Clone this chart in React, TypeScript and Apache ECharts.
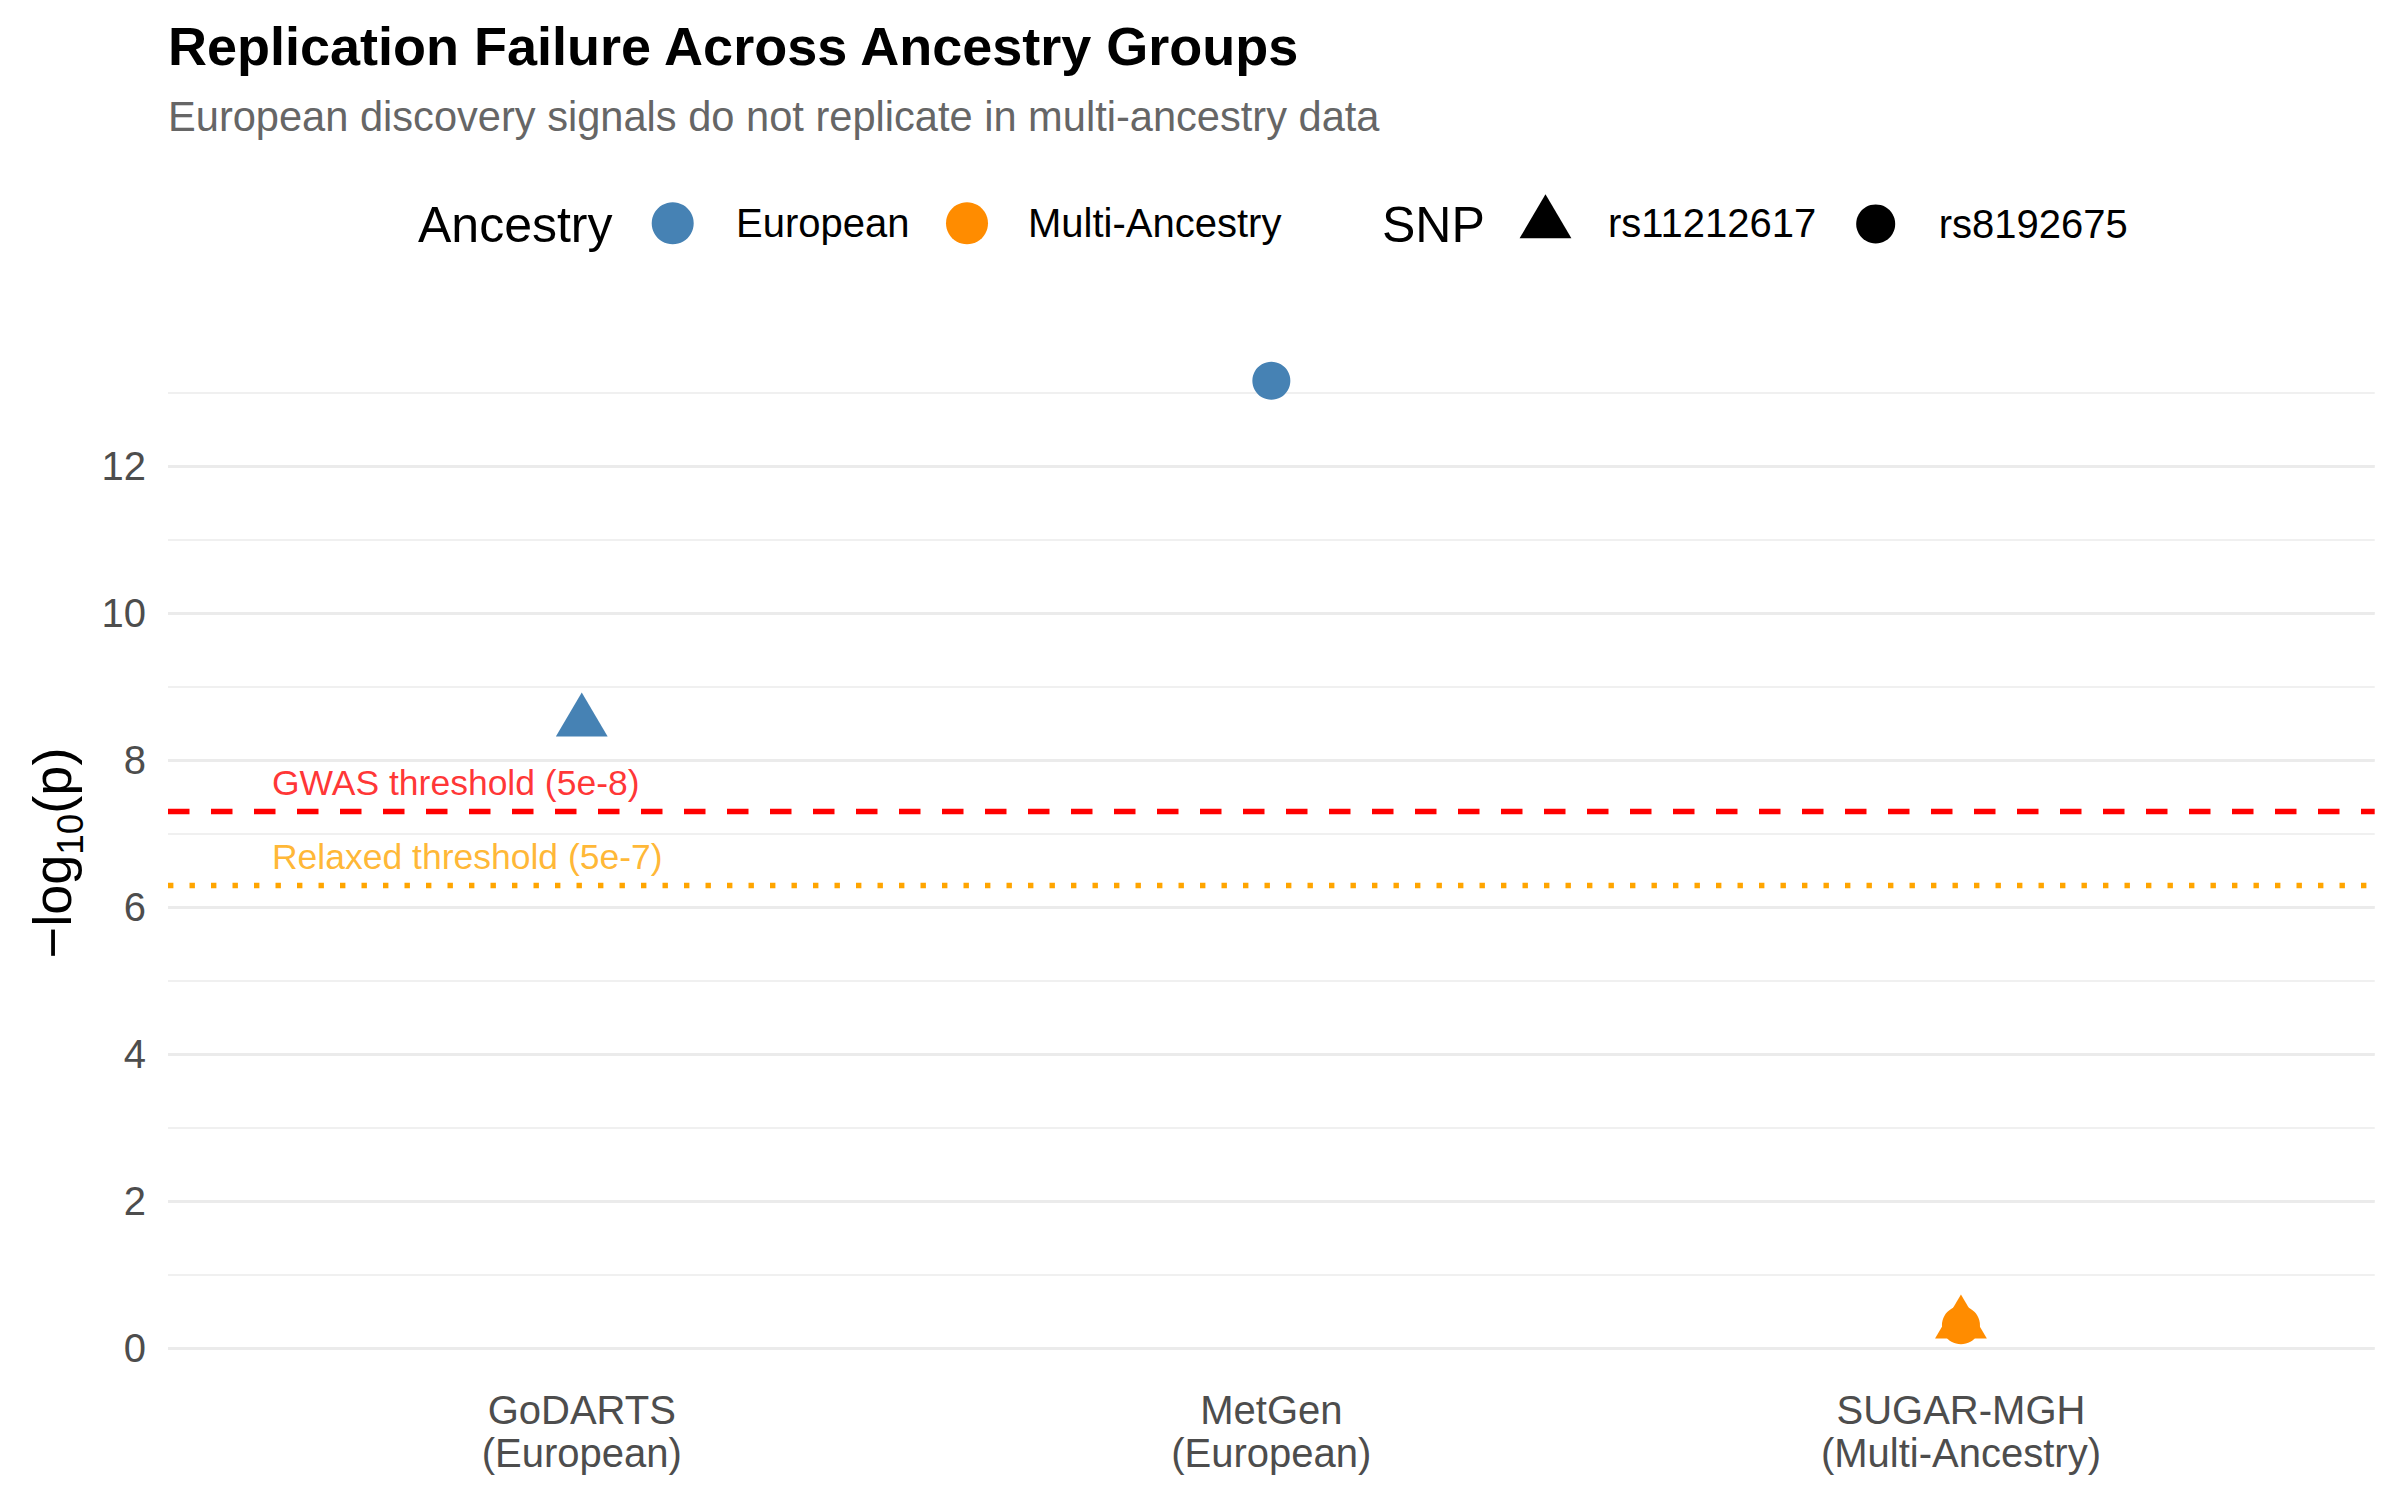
import React, { useEffect, useRef } from 'react';
import * as echarts from 'echarts';

// ---------- data ----------
const studies = ['GoDARTS\n(European)', 'MetGen\n(European)', 'SUGAR-MGH\n(Multi-Ancestry)'];
const ancestryGroups = ['European', 'Multi-Ancestry'];
const ancestryColors = ['#4682B4', '#FF8C00'];
const snps = ['rs11212617', 'rs8192675'];
const snpSymbols = ['triangle', 'circle'];

const pointStudy = [0, 1, 2, 2];
const pointAncestry = ['European', 'European', 'Multi-Ancestry', 'Multi-Ancestry'];
const pointSnp = ['rs11212617', 'rs8192675', 'rs11212617', 'rs8192675'];
const pointLogP = [8.52, 13.16, 0.33, 0.31];

const thresholdValues = [7.3, 6.3];
const thresholdLabels = ['GWAS threshold (5e-8)', 'Relaxed threshold (5e-7)'];
const thresholdColors = ['#FF0000', '#FFA500'];

const xCategoryValues = [0, 1, 2];
const yMin = 0;
const yMax = 13;

const FONT = '"Liberation Sans", Arial, Helvetica, sans-serif';

const TRI_SIZE = [51.8, 44];
const TRI_OFFSET = [0, -7.3];
const CIRCLE_SIZE = 38;

export default function App() {
  const ref = useRef<HTMLDivElement>(null);

  useEffect(() => {
    if (!ref.current) return;
    const chart = echarts.init(ref.current, null, { renderer: 'svg' });

    const pointSeries = ancestryGroups.map((g, gi) => ({
      name: g,
      type: 'scatter',
      clip: false,
      silent: true,
      z: 5,
      itemStyle: { color: ancestryColors[gi], opacity: 1 },
      emphasis: { disabled: true },
      data: pointLogP
        .map((v, i) => ({ v, i }))
        .filter((o) => pointAncestry[o.i] === g)
        .map((o) => {
          const tri = pointSnp[o.i] === snps[0];
          return {
            value: [pointStudy[o.i], o.v],
            symbol: tri ? 'triangle' : 'circle',
            symbolSize: tri ? TRI_SIZE : CIRCLE_SIZE,
            symbolOffset: tri ? TRI_OFFSET : [0, 0],
          };
        }),
    }));

    const snpSeries = snps.map((s, si) => ({
      name: s,
      type: 'scatter',
      symbol: snpSymbols[si],
      itemStyle: { color: '#000000', opacity: 1 },
      data: [],
    }));

    const thresholdSeries = {
      name: 'thresholds',
      type: 'scatter',
      clip: false,
      silent: true,
      symbolSize: 1,
      itemStyle: { color: 'rgba(0,0,0,0)' },
      emphasis: { disabled: true },
      data: thresholdValues.map((v, i) => ({
        value: [-0.45, v],
        label: {
          show: true,
          position: 'right',
          distance: 0,
          offset: [0, -28],
          formatter: thresholdLabels[i],
          color: thresholdColors[i],
          fontSize: 35.5,
          fontFamily: FONT,
        },
      })),
      markLine: {
        silent: true,
        symbol: ['none', 'none'],
        label: { show: false },
        emphasis: { disabled: true },
        data: thresholdValues.map((v, i) => ({
          yAxis: v,
          lineStyle: {
            color: thresholdColors[i],
            width: 5.4,
            type: i === 0 ? [21.5, 21.5] : [5.4, 16.1],
            cap: 'butt',
          },
        })),
      },
    };

    const legendText = (pad: number[]) => ({
      fontSize: 40,
      color: '#000000',
      fontFamily: FONT,
      padding: pad,
    });

    const option = {
      animation: false,
      backgroundColor: '#ffffff',
      title: [
        {
          text: 'Replication Failure Across Ancestry Groups',
          left: 168,
          top: 19,
          padding: 0,
          textStyle: { fontSize: 54, fontWeight: 'bold', color: '#000000', fontFamily: FONT },
        },
        {
          text: 'European discovery signals do not replicate in multi-ancestry data',
          left: 168,
          top: 95.2,
          padding: 0,
          textStyle: { fontSize: 41.6, fontWeight: 'normal', color: '#666666', fontFamily: FONT },
        },
      ],
      legend: [
        {
          data: [ancestryGroups[0]],
          left: 651.7,
          top: 202.3,
          padding: 0,
          itemWidth: 42,
          itemHeight: 42,
          icon: 'circle',
          selectedMode: false,
          textStyle: legendText([0, 0, 0, 37.3]),
        },
        {
          data: [ancestryGroups[1]],
          left: 946,
          top: 202.3,
          padding: 0,
          itemWidth: 42,
          itemHeight: 42,
          icon: 'circle',
          selectedMode: false,
          textStyle: legendText([0, 0, 0, 35]),
        },
        {
          data: [snps[0]],
          left: 1519.6,
          top: 194.3,
          padding: 0,
          itemWidth: 51.8,
          itemHeight: 44,
          icon: 'triangle',
          selectedMode: false,
          formatter: '{t|{name}}',
          textStyle: {
            ...legendText([0, 0, 0, 31.6]),
            rich: {
              t: { fontSize: 40, color: '#000000', fontFamily: FONT, padding: [14, 0, 0, 0] },
            },
          },
        },
        {
          data: [snps[1]],
          left: 1856.2,
          top: 203.9,
          padding: 0,
          itemWidth: 39,
          itemHeight: 39,
          icon: 'circle',
          selectedMode: false,
          textStyle: legendText([0, 0, 0, 38.6]),
        },
      ],
      graphic: [
        {
          type: 'text',
          x: 418,
          y: 224.7,
          silent: true,
          style: {
            text: 'Ancestry',
            fontSize: 50,
            fontFamily: FONT,
            fill: '#000000',
            align: 'left',
            verticalAlign: 'middle',
            textAlign: 'left',
            textVerticalAlign: 'middle',
          },
        },
        {
          type: 'text',
          x: 1382,
          y: 224.7,
          silent: true,
          style: {
            text: 'SNP',
            fontSize: 50,
            fontFamily: FONT,
            fill: '#000000',
            align: 'left',
            verticalAlign: 'middle',
            textAlign: 'left',
            textVerticalAlign: 'middle',
          },
        },
        {
          type: 'text',
          x: 52,
          y: 853,
          rotation: Math.PI / 2,
          silent: true,
          style: {
            text: '{a|\u2212log}{b|10}{a|(p)}',
            fill: '#000000',
            fontSize: 54,
            fontFamily: FONT,
            align: 'center',
            verticalAlign: 'middle',
            textAlign: 'center',
            textVerticalAlign: 'middle',
            rich: {
              a: { fontSize: 54, fontFamily: FONT, fill: '#000000' },
              b: { fontSize: 37, fontFamily: FONT, fill: '#000000', padding: [36, 0, 0, 0] },
            },
          },
        },
      ],
      grid: {
        left: 168,
        right: 25.3,
        top: 392.5,
        bottom: 152,
        containLabel: false,
      },
      xAxis: {
        type: 'value',
        min: -0.6,
        max: 2.6,
        axisLine: { show: false },
        axisTick: { show: false },
        splitLine: { show: false },
        axisLabel: {
          customValues: xCategoryValues,
          formatter: (v: number) => {
            const r = Math.round(v);
            return Math.abs(v - r) < 1e-6 && studies[r] !== undefined ? studies[r] : '';
          },
          fontSize: 40,
          lineHeight: 43,
          color: '#4D4D4D',
          fontFamily: FONT,
          margin: 40,
          showMinLabel: true,
          showMaxLabel: true,
        },
      },
      yAxis: [
        {
          type: 'value',
          position: 'left',
          min: yMin,
          max: yMax,
          interval: 2,
          axisLine: { show: false },
          axisTick: { show: false },
          splitLine: {
            show: true,
            showMaxLine: false,
            lineStyle: { color: '#EBEBEB', width: 3.2 },
          },
          axisLabel: {
            fontSize: 40,
            color: '#4D4D4D',
            fontFamily: FONT,
            margin: 22,
            showMaxLabel: false,
          },
          z: 1,
        },
        {
          type: 'value',
          position: 'left',
          min: yMin,
          max: yMax,
          interval: 1,
          axisLine: { show: false },
          axisTick: { show: false },
          axisLabel: { show: false },
          splitLine: { show: true, lineStyle: { color: '#EBEBEB', width: 1.6 } },
          z: 0,
        },
      ],
      series: [thresholdSeries, ...pointSeries, ...snpSeries],
    };

    chart.setOption(option as any);
    return () => chart.dispose();
  }, []);

  return (
    <div
      ref={ref}
      style={{ position: 'absolute', left: 0, top: 0, width: 2400, height: 1500, background: '#ffffff' }}
    />
  );
}
